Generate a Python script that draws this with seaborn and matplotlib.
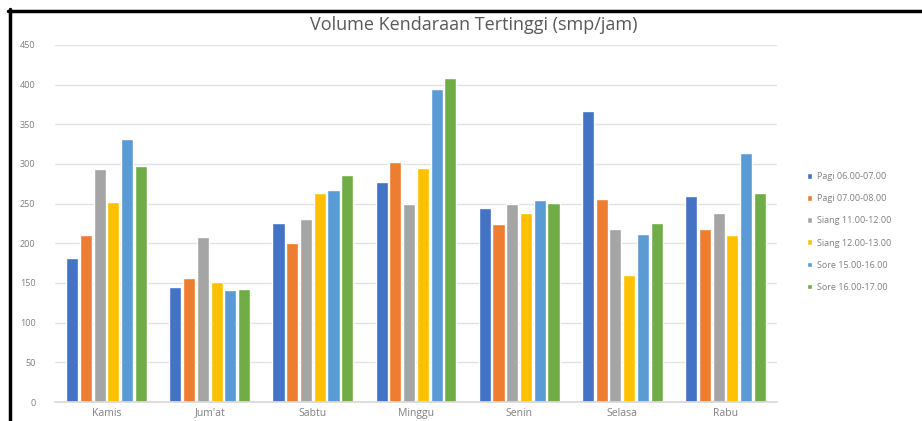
import matplotlib
matplotlib.use("Agg")
import matplotlib.pyplot as plt
from matplotlib.lines import Line2D
import seaborn as sns
import pandas as pd

days = ["Kamis", "Jum'at", "Sabtu", "Minggu", "Senin", "Selasa", "Rabu"]
series_names = ["Pagi 06.00-07.00", "Pagi 07.00-08.00", "Siang 11.00-12.00",
                "Siang 12.00-13.00", "Sore 15.00-16.00", "Sore 16.00-17.00"]
pagi_0607 = [182, 145, 226, 277, 245, 367, 260]
pagi_0708 = [210, 156, 200, 302, 224, 256, 218]
siang_1112 = [294, 208, 231, 250, 249, 218, 238]
siang_1213 = [252, 151, 264, 295, 238, 160, 210]
sore_1516 = [331, 141, 267, 394, 255, 212, 314]
sore_1617 = [298, 143, 286, 408, 251, 225, 263]
yticks = [0, 50, 100, 150, 200, 250, 300, 350, 400, 450]
colors = ["#4472C4", "#ED7D31", "#A5A5A5", "#FFC000", "#5B9BD5", "#70AD47"]

all_vals = [pagi_0607, pagi_0708, siang_1112, siang_1213, sore_1516, sore_1617]
rows = []
for name, vals in zip(series_names, all_vals):
    for d, v in zip(days, vals):
        rows.append({"day": d, "series": name, "value": v})
df = pd.DataFrame(rows)

sns.set_theme(style="white")
plt.rcParams["font.family"] = ["Open Sans", "DejaVu Sans"]

fig = plt.figure(figsize=(9.22, 4.21), dpi=100)
ax = fig.add_axes([55 / 922, 1 - 402 / 421, (777 - 55) / 922, (402 - 45) / 421])

sns.barplot(data=df, x="day", y="value", hue="series", order=days,
            hue_order=series_names, palette=colors, width=0.8, gap=0.12,
            errorbar=None, ax=ax, saturation=1)

ax.set_ylim(0, 450)
ax.set_yticks(yticks)
ax.set_xlim(-0.5, len(days) - 0.5)
ax.yaxis.grid(True, color="#E3E3E3", linewidth=1)
ax.set_axisbelow(True)
for s in ["top", "right", "left"]:
    ax.spines[s].set_visible(False)
ax.spines["bottom"].set_color("#D9D9D9")
ax.set_xlabel("")
ax.set_ylabel("")
ax.tick_params(axis="y", labelsize=6.5, colors="#7F7F7F", length=0, pad=14)
ax.tick_params(axis="x", labelsize=7.5, colors="#7F7F7F", length=0, pad=4)

ax.set_title("Volume Kendaraan Tertinggi (smp/jam)", fontsize=13,
             color="#595959", y=1.0, pad=11, x=0.58)

leg = ax.legend(loc="center left", bbox_to_anchor=(803 / 922, 1 - 232 / 421),
                bbox_transform=fig.transFigure, frameon=False, fontsize=6.5,
                handlelength=0.6, handleheight=0.6, handletextpad=0.5,
                labelspacing=1.45, borderaxespad=0)
for t in leg.get_texts():
    t.set_color("#7F7F7F")

fig.add_artist(Line2D([9.5 / 922, 9.5 / 922], [0, 1 - 9 / 421],
                      transform=fig.transFigure, color="black", linewidth=2.5))
fig.add_artist(Line2D([8 / 922, 1], [1 - 10.5 / 421, 1 - 10.5 / 421],
                      transform=fig.transFigure, color="black", linewidth=2.5))

fig.savefig("out.png", dpi=100)
